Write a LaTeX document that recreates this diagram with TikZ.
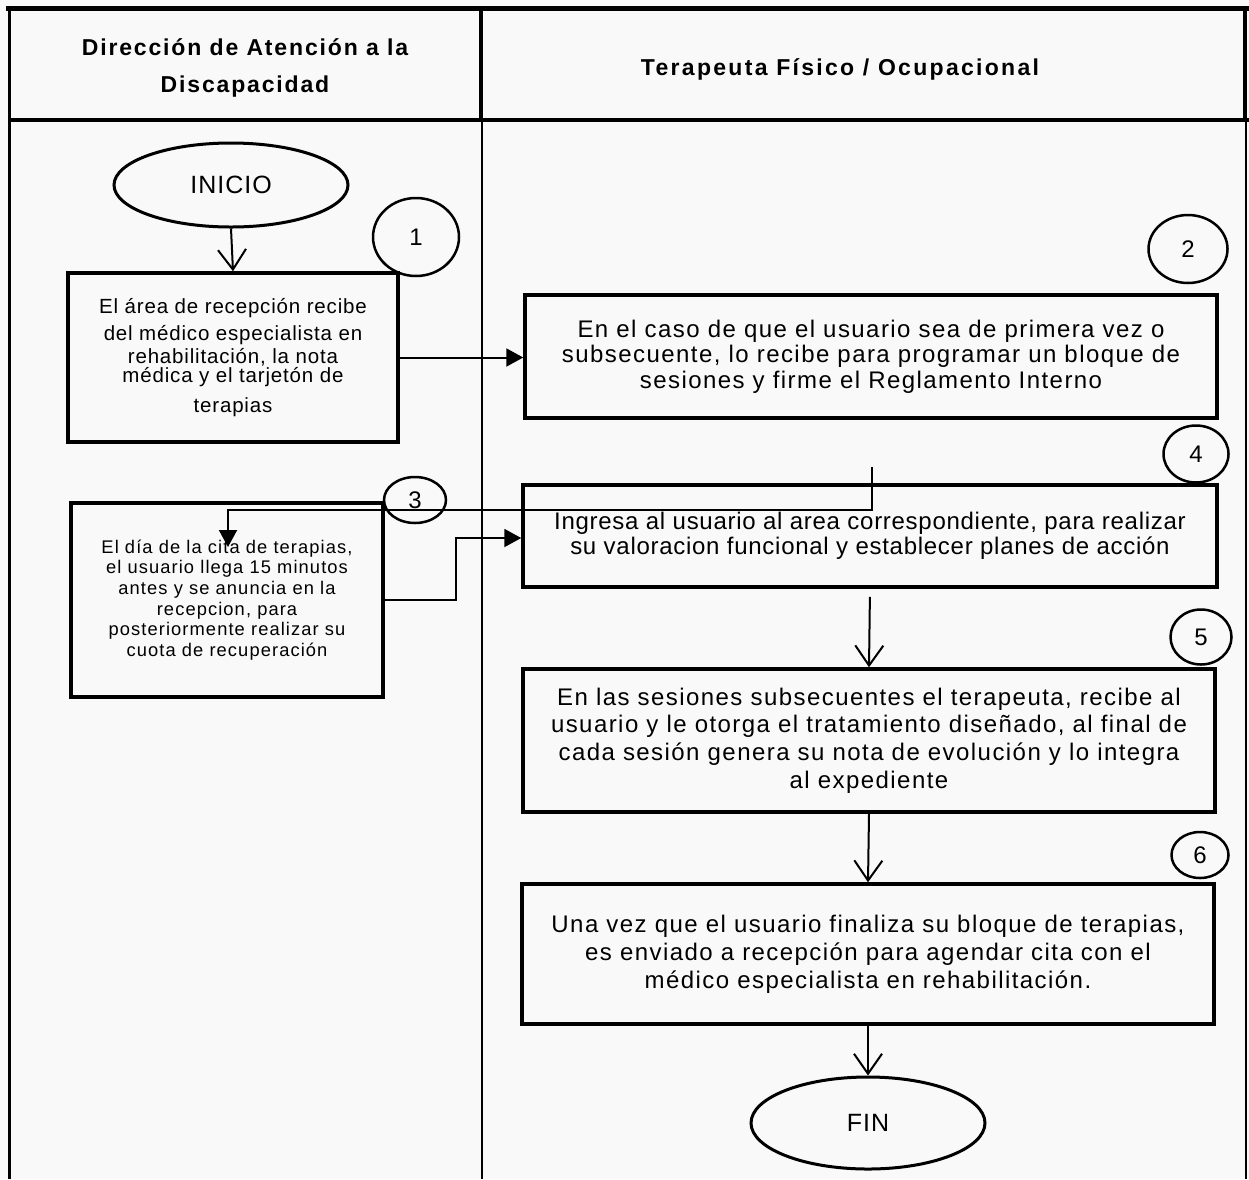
\documentclass[tikz,border=0pt]{standalone}
\usepackage{fontspec}
\setmainfont{Liberation Sans}
\newfontfamily\boxfont[LetterSpace=6]{Liberation Sans}
\newfontfamily\midboxfont[LetterSpace=3]{Liberation Sans}
\newfontfamily\smallboxfont[LetterSpace=4]{Liberation Sans}
\newfontfamily\tinyboxfont[LetterSpace=6]{Liberation Sans}
\newfontfamily\headfont[LetterSpace=8]{Liberation Sans}
\newfontfamily\headfontwide[LetterSpace=10]{Liberation Sans}
\usetikzlibrary{arrows.meta,shapes.geometric}
\definecolor{bg}{RGB}{249,249,249}
\begin{document}
\begin{tikzpicture}[x=1pt,y=-1pt,
  box/.style={draw, line width=3.5pt, rectangle, inner sep=0pt, align=center},
  oval/.style={draw, ellipse, line width=3pt, inner sep=0pt, font=\smallboxfont\fontsize{25}{28}\selectfont},
  num/.style={draw, ellipse, line width=2.5pt, inner sep=0pt, font=\fontsize{24}{26}\selectfont},
  flow/.style={line width=2pt, -{Straight Barb[length=20pt,width=28pt]}},
  tri/.style={line width=2pt, -{Triangle[length=17pt,width=18pt]}},
  head/.style={font=\headfont\bfseries\fontsize{23}{37}\selectfont, align=center}]
\useasboundingbox (0,0) rectangle (1249,1179);
\fill[bg] (0,0) rectangle (1249,1179);
% frame
\draw[line width=5pt] (6,8) -- (1249,8);
\draw[line width=4.5pt] (8,120) -- (1249,120);
\draw[line width=3pt] (9,6) -- (9,1179);
\draw[line width=4pt] (481,8) -- (481,120);
\draw[line width=2.4pt] (482,120) -- (482,1179);
\draw[line width=4pt] (1245,8) -- (1245,120);
\draw[line width=1.5pt] (1246,120) -- (1246,1179);
% headers
\node[head] (h1) at (245,68) {Dirección de Atención a la\\Discapacidad};
\node[head, font=\headfontwide\bfseries\fontsize{23}{37}\selectfont] (h2) at (840,69) {Terapeuta Físico / Ocupacional};
% nodes
\node[oval, minimum width=234pt, minimum height=84pt] (ini) at (231,185) {INICIO};
\node[num, minimum width=86pt, minimum height=78pt] (c1) at (416,237) {1};
\node[box, minimum width=330pt, minimum height=169pt, font=\smallboxfont\fontsize{20.5}{25}\selectfont] (b1) at (233,357.5)
  {El área de recepción recibe\\[2pt]del médico especialista en\\[-2pt]rehabilitación, la nota\\[-6pt]médica y el tarjetón de\\[5pt]terapias};
\node[box, minimum width=692pt, minimum height=123pt, font=\boxfont\fontsize{24}{25.5}\selectfont] (b2) at (871,356.5)
  {En el caso de que el usuario sea de primera vez o\\subsecuente, lo recibe para programar un bloque de\\sesiones y firme el Reglamento Interno};
\node[num, minimum width=79pt, minimum height=68pt] (c2) at (1188,249) {2};
\node[box, minimum width=312pt, minimum height=194pt, font=\tinyboxfont\fontsize{18.3}{20.6}\selectfont] (b3) at (227,600)
  {El día de la cita de terapias,\\el usuario llega 15 minutos\\antes y se anuncia en la\\recepcion, para\\posteriormente realizar su\\cuota de recuperación};
\node[num, minimum width=62pt, minimum height=46pt] (c3) at (415,500) {3};
\node[box, minimum width=694pt, minimum height=102pt, font=\midboxfont\fontsize{24}{25}\selectfont] (b4) at (870,536)
  {Ingresa al usuario al area correspondiente, para realizar\\su valoracion funcional y establecer planes de acción};
\node[num, minimum width=65pt, minimum height=57pt] (c4) at (1196,454) {4};
\node[box, minimum width=692pt, minimum height=143pt, font=\boxfont\fontsize{24}{27.7}\selectfont] (b5) at (869,740.5)
  {En las sesiones subsecuentes el terapeuta, recibe al\\usuario y le otorga el tratamiento diseñado, al final de\\cada sesión genera su nota de evolución y lo integra\\al expediente};
\node[num, minimum width=61pt, minimum height=55pt] (c5) at (1201,637) {5};
\node[box, minimum width=692pt, minimum height=140pt, font=\boxfont\fontsize{24}{28}\selectfont] (b6) at (868,954)
  {Una vez que el usuario finaliza su bloque de terapias,\\es enviado a recepción para agendar cita con el\\médico especialista en rehabilitación.};
\node[num, minimum width=57pt, minimum height=46pt] (c6) at (1200,855) {6};
\node[oval, minimum width=234pt, minimum height=92pt] (fin) at (868,1123) {FIN};
% connector helper points
\coordinate (s4) at (872,467);
\coordinate (k1) at (872,510);
\coordinate (k2) at (228,510);
\coordinate (e3) at (228,547);
\coordinate (j3) at (456,538);
% connectors
\draw[flow] (ini.south) -- (b1.north);
\draw[tri] (b1.east) -- (b1.east -| b2.west);
\draw[tri] (s4) -- (k1) -- (k2) -- (e3);
\draw[tri] (b3.east) -| (j3) -- (j3 -| b4.west);
\draw[flow, shorten <=8pt] (b4.south) -- (b5.north);
\draw[flow] (b5.south) -- (b6.north);
\draw[flow] (b6.south) -- (fin.north);
\end{tikzpicture}
\end{document}
